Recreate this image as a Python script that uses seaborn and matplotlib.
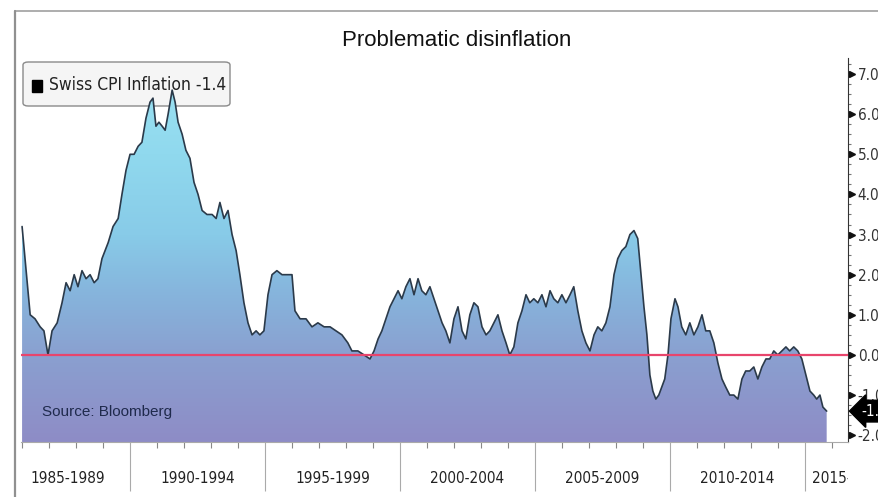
import numpy as np
import pandas as pd
import seaborn as sns
import matplotlib
matplotlib.use("Agg")
import matplotlib.pyplot as plt
from matplotlib.patches import PathPatch, Rectangle, FancyBboxPatch
from matplotlib.path import Path
from matplotlib.lines import Line2D
from matplotlib.colors import LinearSegmentedColormap
import matplotlib.transforms as mtransforms

# swiss cpi inflation (decimal year, % yoy)
years = [1986.00, 1986.30, 1986.48, 1986.67, 1986.81, 1986.96, 1987.11, 1987.30, 1987.48, 1987.63,
         1987.78, 1987.93, 1988.07, 1988.22, 1988.37, 1988.52, 1988.67, 1988.81, 1988.96, 1989.19,
         1989.37, 1989.56, 1989.70, 1989.85, 1990.00, 1990.15, 1990.30, 1990.44, 1990.59, 1990.74,
         1990.85, 1990.96, 1991.07, 1991.19, 1991.30, 1991.41, 1991.56, 1991.67, 1991.78, 1991.93,
         1992.07, 1992.22, 1992.37, 1992.52, 1992.67, 1992.85, 1993.04, 1993.19, 1993.33, 1993.48,
         1993.63, 1993.78, 1993.93, 1994.07, 1994.22, 1994.37, 1994.52, 1994.67, 1994.81, 1994.96,
         1995.11, 1995.26, 1995.44, 1995.63, 1995.81, 1996.00, 1996.11, 1996.30, 1996.52, 1996.74,
         1996.96, 1997.19, 1997.41, 1997.63, 1997.85, 1998.07, 1998.22, 1998.44, 1998.67, 1998.89,
         1999.04, 1999.19, 1999.33, 1999.48, 1999.63, 1999.78, 1999.93, 2000.07, 2000.22, 2000.37,
         2000.52, 2000.67, 2000.81, 2000.96, 2001.11, 2001.26, 2001.41, 2001.56, 2001.70, 2001.85,
         2002.00, 2002.15, 2002.30, 2002.44, 2002.59, 2002.74, 2002.89, 2003.04, 2003.19, 2003.33,
         2003.48, 2003.63, 2003.78, 2003.93, 2004.07, 2004.22, 2004.37, 2004.52, 2004.67, 2004.81,
         2004.96, 2005.11, 2005.26, 2005.41, 2005.56, 2005.70, 2005.85, 2006.00, 2006.15, 2006.30,
         2006.44, 2006.59, 2006.74, 2006.89, 2007.04, 2007.19, 2007.33, 2007.48, 2007.63, 2007.78,
         2007.93, 2008.07, 2008.22, 2008.37, 2008.52, 2008.67, 2008.81, 2008.93, 2009.04, 2009.15,
         2009.26, 2009.37, 2009.48, 2009.59, 2009.70, 2009.81, 2009.93, 2010.04, 2010.19, 2010.30,
         2010.44, 2010.59, 2010.74, 2010.89, 2011.04, 2011.19, 2011.33, 2011.48, 2011.63, 2011.78,
         2011.93, 2012.07, 2012.22, 2012.37, 2012.52, 2012.67, 2012.81, 2012.96, 2013.11, 2013.26,
         2013.41, 2013.56, 2013.70, 2013.85, 2014.00, 2014.15, 2014.30, 2014.44, 2014.59, 2014.74,
         2014.89, 2015.04, 2015.19, 2015.33, 2015.44, 2015.56, 2015.67, 2015.81]
cpi = [3.2, 1.0, 0.9, 0.7, 0.6, 0.0, 0.6, 0.8, 1.3, 1.8,
       1.6, 2.0, 1.7, 2.1, 1.9, 2.0, 1.8, 1.9, 2.4, 2.8,
       3.2, 3.4, 4.0, 4.6, 5.0, 5.0, 5.2, 5.3, 5.9, 6.3,
       6.4, 5.7, 5.8, 5.7, 5.6, 6.0, 6.6, 6.3, 5.8, 5.5,
       5.1, 4.9, 4.3, 4.0, 3.6, 3.5, 3.5, 3.4, 3.8, 3.4,
       3.6, 3.0, 2.6, 2.0, 1.3, 0.8, 0.5, 0.6, 0.5, 0.6,
       1.5, 2.0, 2.1, 2.0, 2.0, 2.0, 1.1, 0.9, 0.9, 0.7,
       0.8, 0.7, 0.7, 0.6, 0.5, 0.3, 0.1, 0.1, 0.0, -0.1,
       0.1, 0.4, 0.6, 0.9, 1.2, 1.4, 1.6, 1.4, 1.7, 1.9,
       1.5, 1.9, 1.6, 1.5, 1.7, 1.4, 1.1, 0.8, 0.6, 0.3,
       0.9, 1.2, 0.6, 0.4, 1.0, 1.3, 1.2, 0.7, 0.5, 0.6,
       0.8, 1.0, 0.6, 0.3, 0.0, 0.2, 0.8, 1.1, 1.5, 1.3,
       1.4, 1.3, 1.5, 1.2, 1.6, 1.4, 1.3, 1.5, 1.3, 1.5,
       1.7, 1.1, 0.6, 0.3, 0.1, 0.5, 0.7, 0.6, 0.8, 1.2,
       2.0, 2.4, 2.6, 2.7, 3.0, 3.1, 2.9, 2.0, 1.2, 0.5,
       -0.5, -0.9, -1.1, -1.0, -0.8, -0.6, 0.0, 0.9, 1.4, 1.2,
       0.7, 0.5, 0.8, 0.5, 0.7, 1.0, 0.6, 0.6, 0.3, -0.2,
       -0.6, -0.8, -1.0, -1.0, -1.1, -0.6, -0.4, -0.4, -0.3, -0.6,
       -0.3, -0.1, -0.1, 0.1, 0.0, 0.1, 0.2, 0.1, 0.2, 0.1,
       -0.1, -0.5, -0.9, -1.0, -1.1, -1.0, -1.3, -1.4]

period_labels = ["1985-1989", "1990-1994", "1995-1999", "2000-2004", "2005-2009", "2010-2014", "2015-2019"]
period_pos = [1987.7, 1992.5, 1997.5, 2002.5, 2007.5, 2012.5, 2015.25]
ytick_vals = [7, 6, 5, 4, 3, 2, 1, 0, -1, -2]
ytick_labels = ["7.0", "6.0", "5.0", "4.0", "3.0", "2.0", "1.0", "0.0", "-1.0", "-2.0"]
last_value = -1.4

df = pd.DataFrame({"year": years, "cpi": cpi})

sns.set_style("white")
plt.rcParams["font.family"] = ["Liberation Sans", "DejaVu Sans"]
narrow = dict(fontfamily="DejaVu Sans", fontstretch="condensed")

fig = plt.figure(figsize=(8.79, 4.97), dpi=100)
W, H = 879, 497
ax = fig.add_axes([21 / W, 1 - 442 / H, (848 - 21) / W, (442 - 58) / H])

xmin, xmax = 1985.96, 2016.6
ymin, ymax = -2.17, 7.4
ax.set_xlim(xmin, xmax)
ax.set_ylim(ymin, ymax)

# gradient area under the line (bottom purple -> top light cyan)
cmap = LinearSegmentedColormap.from_list(
    "cpi", [(0.0, "#8e8cc6"), (0.227, "#8aa0d0"), (0.383, "#86b4dc"), (0.54, "#88cbe8"),
            (0.75, "#90d9ee"), (1.0, "#9ee3f3")])
grad = np.linspace(0, 1, 256).reshape(-1, 1)
im = ax.imshow(grad, extent=[xmin, xmax, ymin, ymax], origin="lower", aspect="auto",
               cmap=cmap, zorder=1)
verts = [(years[0], ymin)] + list(zip(years, cpi)) + [(years[-1], ymin)]
clip = PathPatch(Path(verts), transform=ax.transData, facecolor="none", edgecolor="none")
ax.add_patch(clip)
im.set_clip_path(clip)

sns.lineplot(data=df, x="year", y="cpi", ax=ax, color="#2b3a4a", lw=1.2, zorder=3)
ax.axhline(0, color="#e8456c", lw=1.6, zorder=4)

# axes frame
for s in ["top", "left"]:
    ax.spines[s].set_visible(False)
ax.spines["right"].set_color("#333333")
ax.spines["right"].set_linewidth(0.8)
ax.spines["bottom"].set_color("#aaaaaa")
ax.spines["bottom"].set_linewidth(0.8)
ax.set_xlabel("")
ax.set_ylabel("")

# right hand y axis with arrow ticks
ax.yaxis.tick_right()
ax.set_yticks(ytick_vals)
ax.set_yticks(np.arange(-2, 7.41, 0.25), minor=True)
ax.tick_params(axis="y", which="both", left=False, right=True)
ax.tick_params(axis="y", which="major", length=0, pad=7, labelsize=11, labelcolor="#333333")
ax.tick_params(axis="y", which="minor", length=2, width=0.8, color="#777777", direction="out")
ax.set_yticklabels(ytick_labels, **narrow)
tr = mtransforms.blended_transform_factory(ax.transAxes, ax.transData)
ax.plot([1.0045] * len(ytick_vals), ytick_vals, marker=">", ms=5, color="#111111", lw=0,
        transform=tr, clip_on=False, zorder=5)

# last value tag
ax.text(1.016, last_value, f"{last_value:.1f}", transform=tr, ha="left", va="center",
        fontsize=11, color="white", zorder=6,
        bbox=dict(boxstyle="larrow,pad=0.22", fc="black", ec="black"), **narrow)

# x axis: yearly ticks, long separators at five-year marks
ax.set_xticks([1990, 1995, 2000, 2005, 2010, 2015])
ax.set_xticks(np.arange(1986, 2017), minor=True)
ax.set_xticklabels([])
ax.tick_params(axis="x", which="both", bottom=True, top=False)
ax.tick_params(axis="x", which="major", length=35, width=0.8, color="#aaaaaa", direction="out")
ax.tick_params(axis="x", which="minor", length=4, width=0.8, color="#888888", direction="out")
ax.grid(False)

trx = mtransforms.blended_transform_factory(ax.transData, ax.transAxes)
clip_rect = Rectangle((0, -0.3), 1, 0.3, transform=ax.transAxes, facecolor="none", edgecolor="none")
fig.add_artist(clip_rect)
for lab, pos in zip(period_labels, period_pos):
    ha = "left" if lab.startswith("2015") else "center"
    t = ax.text(pos, -0.094, lab, transform=trx, ha=ha, va="center", fontsize=11,
                color="#222222", clip_on=True, **narrow)
    t.set_clip_path(clip_rect)

# legend box
leg = FancyBboxPatch((23 / W, 1 - 106 / H), 207 / W, 44 / H, boxstyle="round,pad=0,rounding_size=0.006",
                     transform=fig.transFigure, fc="#f5f5f5", ec="#8a8a8a", lw=1.0, zorder=0.5)
ax.add_patch(leg)
leg.set_clip_on(False)
ax.add_patch(Rectangle((32 / W, 1 - 92 / H), 10 / W, 12 / H, transform=fig.transFigure,
                       fc="black", ec="black", clip_on=False, zorder=6))
fig.text(49 / W, 1 - 85 / H, "Swiss CPI Inflation -1.4", ha="left", va="center", fontsize=12.5,
         color="#222222", zorder=6, **narrow)

fig.text(42 / W, 1 - 412 / H, "Source: Bloomberg", ha="left", va="center", fontsize=11,
         color="#1f2a4c", zorder=6)

fig.text(457 / W, 1 - 40 / H, "Problematic disinflation", ha="center", va="center", fontsize=16,
         color="#111111")

# outer picture frame
fig.add_artist(Line2D([15 / W, 1], [1 - 11 / H] * 2, color="#a0a0a0", lw=1.2, transform=fig.transFigure))
fig.add_artist(Line2D([15 / W] * 2, [0, 1 - 11 / H], color="#909090", lw=1.6, transform=fig.transFigure))

fig.savefig("out.png", dpi=100)
